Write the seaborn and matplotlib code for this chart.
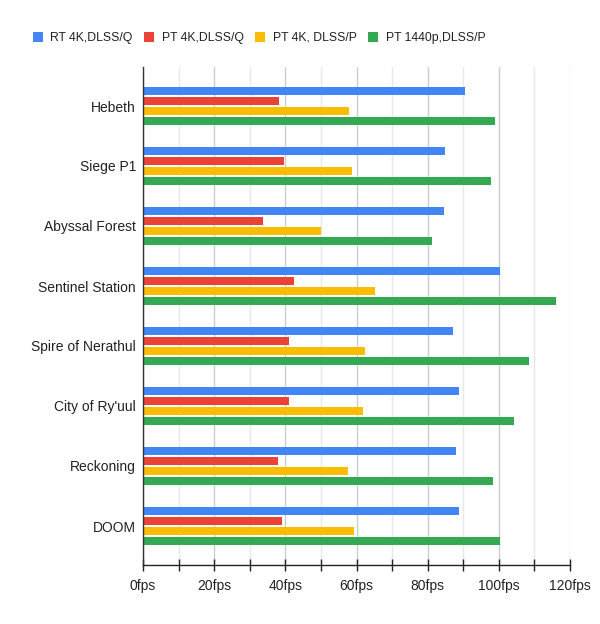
import pandas as pd
import numpy as np
import matplotlib
matplotlib.use("Agg")
import matplotlib.pyplot as plt
from matplotlib.patches import Patch
from matplotlib.ticker import MultipleLocator, FuncFormatter
import seaborn as sns

# Datos
juegos = ["Hebeth", "Siege P1", "Abyssal Forest", "Sentinel Station",
          "Spire of Nerathul", "City of Ry'uul", "Reckoning", "DOOM"]
series = ["RT 4K,DLSS/Q", "PT 4K,DLSS/Q", "PT 4K, DLSS/P", "PT 1440p,DLSS/P"]
rt_4k_q = [90.4, 85.0, 84.7, 100.2, 87.2, 88.9, 88.1, 88.9]
pt_4k_q = [38.3, 39.5, 33.8, 42.3, 41.1, 41.1, 37.8, 39.2]
pt_4k_p = [58.0, 58.8, 49.9, 65.3, 62.5, 61.9, 57.7, 59.2]
pt_1440_p = [98.8, 97.9, 81.1, 116.2, 108.6, 104.4, 98.5, 100.2]
colores = ["#4285F4", "#EA4335", "#FBBC04", "#34A853"]

valores = [rt_4k_q, pt_4k_q, pt_4k_p, pt_1440_p]
df = pd.DataFrame({
    "juego": juegos * len(series),
    "serie": np.repeat(series, len(juegos)),
    "fps": np.concatenate(valores),
})

sns.set_theme(style="white")
plt.rcParams["font.family"] = ["Liberation Sans", "DejaVu Sans"]

fig = plt.figure(figsize=(6, 6.24), dpi=100)
ax = fig.add_axes([143 / 600, 1 - 565 / 624, 427 / 600, 498 / 624])

sns.barplot(data=df, y="juego", x="fps", hue="serie", order=juegos,
            hue_order=series, palette=colores, saturation=1, orient="h",
            width=0.667, gap=0.2, linewidth=0, ax=ax, legend=False)

ax.set_xlim(0, 120)
ax.set_ylim(7.65, -0.65)
ax.xaxis.set_major_locator(MultipleLocator(20))
ax.xaxis.set_minor_locator(MultipleLocator(10))
ax.xaxis.set_major_formatter(FuncFormatter(lambda v, p: f"{int(v)}fps"))
ax.grid(axis="x", which="major", color="#cccccc", linewidth=1)
ax.grid(axis="x", which="minor", color="#e8e8e8", linewidth=1)
ax.set_axisbelow(True)
ax.set_xlabel("")
ax.set_ylabel("")

for s in ["top", "right"]:
    ax.spines[s].set_visible(False)
ax.spines["left"].set_color("#333333")
ax.spines["bottom"].set_color("#222222")
ax.spines["left"].set_linewidth(1)
ax.spines["bottom"].set_linewidth(1)

ax.tick_params(axis="x", which="both", direction="inout", length=8, width=1,
               color="#222222", labelsize=10, labelcolor="#222222", pad=6,
               bottom=True)
ax.tick_params(axis="y", length=0, labelsize=10, labelcolor="#222222", pad=5)

handles = [Patch(facecolor=c, edgecolor="none") for c in colores]
fig.legend(handles, series, loc="center left", ncol=4,
           bbox_to_anchor=(22 / 600, 1 - 38 / 624), frameon=False,
           fontsize=8.8, handlelength=0.82, handleheight=0.82,
           handletextpad=0.6, columnspacing=0.95, labelcolor="#222222")

fig.savefig("out.png", dpi=100, facecolor="white")
